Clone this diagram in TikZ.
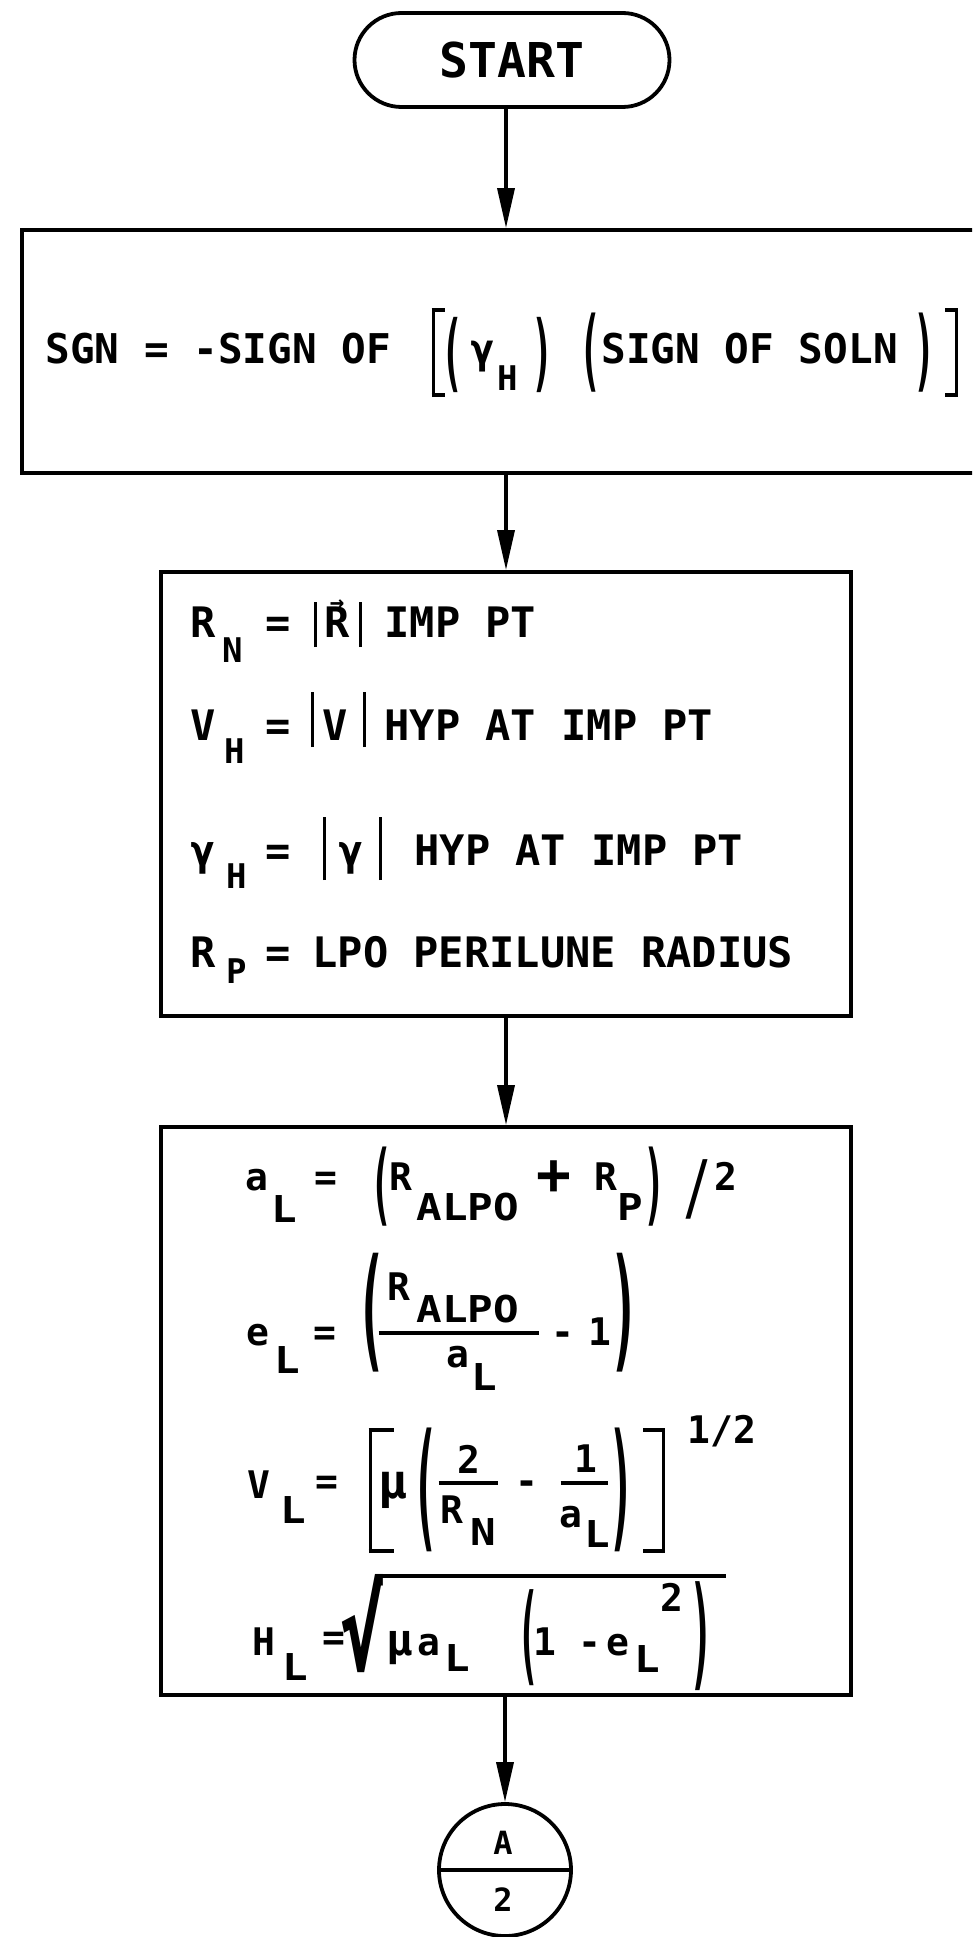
\documentclass[tikz,border=0pt]{standalone}
\usepackage{fontspec}
\setmainfont{DejaVu Sans Mono}[UprightFont={* Bold},BoldFont={* Bold}]
\usepackage{graphicx}
\usetikzlibrary{arrows.meta,shapes.misc}
\newcommand\at[2]{\rlap{\hspace*{#1}#2}}
\newcommand\dl[5]{\at{\dimexpr#1-#5/2\relax}{\raisebox{#3}{\resizebox*{#5}{#4}{\raisebox{0.14em}{#2}}}}}
\newcommand\sbt[4]{\at{#1}{\raisebox{#2}{\fontsize{#3}{#3}\selectfont #4}}}
\newcommand\ssb[3]{\at{#1}{\raisebox{#2}{\scalebox{1.15}[1]{\fontsize{37}{37}\selectfont #3}}}}
\newcommand\vb[3]{\at{#1}{\rule[#2]{3.6pt}{#3}}}
\newcommand\hb[4]{\at{#1}{\rule[#2]{#3}{#4}}}
% left / right square bracket: x of vertical stroke, bottom, height, hook length
\newcommand\lbk[4]{\vb{#1}{#2}{#3}\hb{#1}{#2}{#4}{3.6pt}\hb{#1}{\dimexpr#2+#3-3.6pt\relax}{#4}{3.6pt}}
\newcommand\rbk[4]{\vb{#1}{#2}{#3}\hb{\dimexpr#1-#4+3.6pt\relax}{#2}{#4}{3.6pt}\hb{\dimexpr#1-#4+3.6pt\relax}{\dimexpr#2+#3-3.6pt\relax}{#4}{3.6pt}}
\newcommand\vecR{\ooalign{R\cr\hidewidth\raisebox{27pt}{\fontsize{24}{24}\selectfont →}\hidewidth\cr}}
\newcommand\mmu[1]{{\fontsize{#1}{#1}\selectfont μ}}
\begin{document}
\begin{tikzpicture}[x=1pt,y=-1pt,
  box/.style={draw,line width=3.8pt,rectangle,inner sep=0pt},
  arr/.style={line width=3.5pt,-{Triangle[length=40pt,width=17pt]}},
  row/.style={anchor=base west,inner sep=0pt,outer sep=0pt},
  fa/.style={font=\fontsize{41}{41}\selectfont},
  fb/.style={font=\fontsize{42}{42}\selectfont},
  fc/.style={font=\fontsize{38}{38}\selectfont},
  lab/.style={inner sep=0pt,font=\fontsize{32}{32}\selectfont}]
\useasboundingbox (0,0) rectangle (972,1937);
\fill[white] (0,0) rectangle (972,1937);
\clip (0,0) rectangle (972,1937);

\node[draw,line width=3.8pt,rounded rectangle,minimum width=315pt,minimum height=94pt,inner sep=0pt,font=\fontsize{48}{48}\selectfont] (st) at (512,60) {START};
\node[box,minimum width=964pt,minimum height=243pt] (b1) at (504,351.5) {};
\node[box,minimum width=690pt,minimum height=444pt] (b2) at (506,794) {};
\node[box,minimum width=690pt,minimum height=568pt] (b3) at (506,1411) {};
\node[circle,draw,line width=3.8pt,minimum size=132pt,inner sep=0pt] (c) at (505,1870) {};
\draw[line width=3.8pt] (c.west) -- (c.east);
\node[lab] (cA) at (503,1843) {A};
\node[lab] (c2) at (503,1900) {2};

% box 1
\node[row,fa] (r11) at (0,363) {\at{45pt}{SGN = -SIGN OF}\lbk{431pt}{-34pt}{89pt}{13pt}\dl{452pt}{(}{-30pt}{76pt}{22pt}\at{470pt}{γ}\sbt{497pt}{-27pt}{34}{H}\dl{542pt}{)}{-30pt}{76pt}{22pt}\dl{590pt}{(}{-30pt}{80pt}{22pt}\at{601pt}{SIGN OF SOLN}\dl{924pt}{)}{-30pt}{80pt}{22pt}\rbk{954pt}{-34pt}{89pt}{13pt}};

% box 2
\node[row,fb] (r21) at (0,637) {\at{190pt}{R}\sbt{222pt}{-25pt}{34}{N}\at{265pt}{=}\vb{313pt}{-10pt}{45pt}\at{324pt}{\vecR}\vb{358pt}{-10pt}{45pt}\at{384pt}{IMP PT}};
\node[row,fb] (r22) at (0,740) {\at{190pt}{V}\sbt{224pt}{-23pt}{34}{H}\at{265pt}{=}\vb{310pt}{-7pt}{55pt}\at{322pt}{V}\vb{362pt}{-7pt}{55pt}\at{384pt}{HYP AT IMP PT}};
\node[row,fb] (r23) at (0,865) {\at{190pt}{γ}\sbt{226pt}{-23pt}{34}{H}\at{265pt}{=}\vb{322pt}{-15pt}{63pt}\at{338pt}{γ}\vb{378pt}{-15pt}{63pt}\at{414pt}{HYP AT IMP PT}};
\node[row,fb] (r24) at (0,967) {\at{190pt}{R}\sbt{226pt}{-16pt}{34}{P}\at{265pt}{=}\at{312pt}{LPO PERILUNE RADIUS}};

% box 3
\node[row,fc] (r31) at (0,1190) {\at{245pt}{a}\ssb{271pt}{-32pt}{L}\at{314pt}{=}\dl{381pt}{(}{-37pt}{80pt}{22pt}\at{389pt}{R}\ssb{416pt}{-30pt}{ALPO}\at{536pt}{\raisebox{-4pt}{\fontsize{58}{58}\selectfont +}}\at{594pt}{R}\ssb{617pt}{-30pt}{P}\dl{654pt}{)}{-37pt}{80pt}{22pt}\dl{696pt}{/}{-33pt}{63pt}{27pt}\at{714pt}{2}};
\node[row,fc] (r32) at (0,1345) {\at{246pt}{e}\ssb{274pt}{-28pt}{L}\at{313pt}{=}\dl{371pt}{(}{-28pt}{120pt}{30pt}\at{387pt}{\raisebox{45pt}{R}}\ssb{416pt}{23pt}{ALPO}\hb{378pt}{10.2pt}{160pt}{3.6pt}\at{446pt}{\raisebox{-22pt}{a}}\ssb{471pt}{-45pt}{L}\at{551pt}{-}\at{588pt}{1}\dl{624pt}{)}{-28pt}{120pt}{30pt}};
\node[row,fc] (r33) at (0,1498) {\at{247pt}{V}\ssb{280pt}{-25pt}{L}\at{315pt}{\raisebox{4pt}{=}}\lbk{368pt}{-55pt}{125pt}{25pt}\at{378pt}{\mmu{48}}\dl{425pt}{(}{-55pt}{125pt}{26pt}\at{457pt}{\raisebox{25pt}{2}}\hb{438pt}{13.2pt}{59pt}{3.6pt}\at{440pt}{\raisebox{-25pt}{R}}\ssb{470pt}{-47pt}{N}\at{515pt}{\raisebox{4pt}{-}}\at{574pt}{\raisebox{26pt}{1}}\hb{560pt}{13.2pt}{47pt}{3.6pt}\at{559pt}{\raisebox{-29pt}{a}}\ssb{584pt}{-49pt}{L}\dl{621pt}{)}{-55pt}{125pt}{26pt}\rbk{661pt}{-55pt}{125pt}{22pt}\at{687pt}{\raisebox{55pt}{1/2}}};
\node[row,fc] (r34) at (0,1655) {\at{252pt}{H}\ssb{282pt}{-25pt}{L}\at{322pt}{\raisebox{5pt}{=}}\dl{362pt}{√}{-31pt}{112pt}{45pt}\hb{380pt}{77pt}{345pt}{3.6pt}\at{386pt}{\mmu{44}}\at{417pt}{a}\ssb{444pt}{-16pt}{L}\dl{528pt}{(}{-32pt}{97pt}{22pt}\at{533pt}{1}\at{578pt}{-}\at{606pt}{e}\ssb{634pt}{-17pt}{L}\at{660pt}{\raisebox{44pt}{2}}\dl{701pt}{)}{-37pt}{110pt}{24pt}};

% connectors
\draw[arr] (st.south -| b2.north) -- (b1.north -| b2.north);
\draw[arr] (b1.south -| b2.north) -- (b2.north);
\draw[arr] (b2.south) -- (b3.north);
\draw[arr] (b3.south -| c.north) -- (c.north);
\end{tikzpicture}
\end{document}
